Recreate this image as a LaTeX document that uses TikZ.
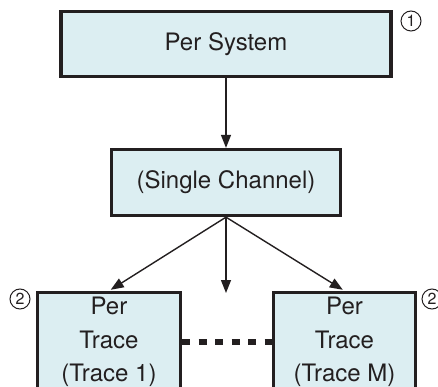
\documentclass[tikz,border=0pt]{standalone}
\usepackage{fontspec}
\setmainfont{TeX Gyre Heros}
\usetikzlibrary{arrows.meta}
\definecolor{boxfill}{RGB}{220,238,242}
\definecolor{ink}{RGB}{35,31,32}
\tikzset{
  box/.style={draw=ink, fill=boxfill, line width=3.3pt, inner sep=0pt,
    text=ink, align=center, font=\fontsize{24}{33.5}\selectfont},
  marker/.style={circle, draw=ink, line width=1pt, minimum size=20pt,
    inner sep=0pt, text=ink, font=\fontsize{16}{16}\selectfont},
  arr/.style={draw=ink, line width=1.4pt, -{Triangle[length=13pt,width=10pt]}},
  dotline/.style={draw=ink, line width=6pt, dash pattern=on 8pt off 8.5pt}
}
\begin{document}
\begin{tikzpicture}[x=1pt,y=-1pt]
\useasboundingbox (0,0) rectangle (438,387);
\clip (0,0) rectangle (438,387);
\node[box, minimum width=330pt, minimum height=65pt] (sys) at (226,44) {Per System};
\node[box, minimum width=229pt, minimum height=66pt] (chan) at (226,182.5) {(Single Channel)};
\node[box, minimum width=143pt, minimum height=99pt] (t1) at (109,342) {Per\\Trace\\(Trace 1)};
\node[box, minimum width=142pt, minimum height=99pt] (tm) at (344.5,342) {Per\\Trace\\(Trace M)};
\node[marker] (m1) at (411,21) {1};
\node[marker] (m2a) at (20,299) {2};
\node[marker] (m2b) at (432,299) {2};
\coordinate (mid) at (226,293);
\draw[arr] (sys.south) -- (chan.north);
\draw[arr, shorten >=2pt] (chan.south) -- (t1.north);
\draw[arr] (chan.south) -- (mid);
\draw[arr, shorten >=2pt] (chan.south) -- (tm.north);
\draw[dotline] (t1.east) -- (tm.west);
\end{tikzpicture}
\end{document}
